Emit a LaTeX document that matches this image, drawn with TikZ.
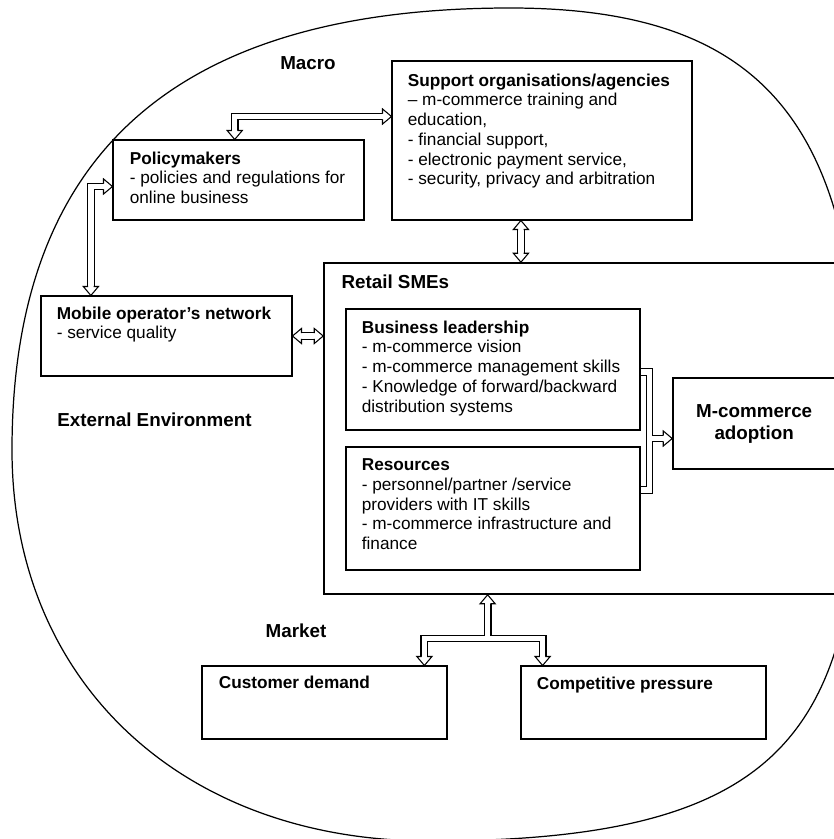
\documentclass[tikz,border=0pt]{standalone}
\usepackage{fontspec}
\setmainfont{Liberation Sans}
\usetikzlibrary{calc,fit,backgrounds}

\begin{document}
\begin{tikzpicture}[x=0.02cm,y=-0.02cm,
        box/.style={draw,line width=0.6pt,inner sep=0pt},
        main box/.style={box,line width=0.9pt},
        body/.style={anchor=north west,inner sep=0pt,align=left,font=\fontsize{9.8}{11.2}\selectfont},
        zone/.style={inner sep=0pt,font=\fontsize{10.7}{12.5}\selectfont\bfseries},
        pipe/.style={line join=miter},
        both heads/.style={shorten <=5.1pt,shorten >=5.1pt},
        end head/.style={shorten >=5.1pt},
        start head/.style={shorten <=5.1pt},
        arrow head/.pic={\filldraw[fill=white,line width=0.6pt,line join=miter]
            (-5.1pt,1.6pt) -- (-5.1pt,4.3pt) -- (0pt,0pt) -- (-5.1pt,-4.3pt) -- (-5.1pt,-1.6pt);}]
    \useasboundingbox (0,0) rectangle (834,839);

    \node[box,fit={(113,140) (364,220)}] (pol) {};
    \node[box,fit={(392,61) (692,220)}] (sup) {};
    \node[box,fit={(41,296) (292,376)}] (mob) {};
    \node[main box,fit={(324,263) (860,594)}] (ret) {};
    \node[box,fit={(346,309) (640,430)}] (bus) {};
    \node[box,fit={(346,447) (640,570)}] (res) {};
    \node[main box,fit={(673,378) (850,469)}] (mca) {};
    \node[box,fit={(202,666) (447,739)}] (cust) {};
    \node[box,fit={(521,666) (766,739)}] (comp) {};

    \node[body] (pol text) at ($(pol.north west)+(17,12)$) {\textbf{Policymakers}\\- policies and regulations for\\online business};
    \node[body] (sup text) at ($(sup.north west)+(16,13)$) {\textbf{Support organisations/agencies}\\– m-commerce training and\\education,\\- financial support,\\- electronic payment service,\\- security, privacy and arbitration};
    \node[body] (mob text) at ($(mob.north west)+(16,11)$) {\textbf{Mobile operator's network}\\- service quality};
    \node[body] (bus text) at ($(bus.north west)+(16,12)$) {\textbf{Business leadership}\\- m-commerce vision\\- m-commerce management skills\\- Knowledge of forward/backward\\distribution systems};
    \node[body] (res text) at ($(res.north west)+(16,12)$) {\textbf{Resources}\\- personnel/partner /service\\providers with IT skills\\- m-commerce infrastructure and\\finance};
    \node[body] (cust text) at ($(cust.north west)+(17,10)$) {\textbf{Customer demand}};
    \node[body] (comp text) at ($(comp.north west)+(16,11)$) {\textbf{Competitive pressure}};
    \node[zone,align=center] (mca text) at ($(mca.west)+(82,0)$) {M-commerce\\adoption};

    \node[zone] (macro) at (308,63) {Macro};
    \node[zone,anchor=west] (external) at (57,420) {External Environment};
    \node[zone] (market) at (296,631) {Market};
    \node[zone,anchor=north west] (retail) at ($(ret.north west)+(18,12)$) {Retail SMEs};

    \coordinate (ps) at ($(pol.north west)!0.485!(pol.north east)$);
    \coordinate (sp) at ($(sup.north west)!0.35!(sup.south west)$);
    \coordinate (pm) at ($(pol.north west)!0.58!(pol.south west)$);
    \coordinate (mp) at ($(mob.north west)!0.2!(mob.north east)$);
    \coordinate (sr) at ($(sup.south west)!0.43!(sup.south east)$);
    \coordinate (rs) at (sr |- ret.north);
    \coordinate (rm) at (mob.east -| ret.west);
    \coordinate (bl) at ($(bus.north east)!0.52!(bus.south east)$);
    \coordinate (rl) at ($(res.north east)!0.35!(res.south east)$);
    \coordinate (jx) at ($(bus.south east)!0.5!(res.north east)+(9,0)$);
    \coordinate (ma) at (jx -| mca.west);
    \coordinate (fk) at ($(cust.north east)!0.55!(comp.north west)$);
    \coordinate (fork) at ($(fk)+(0,-27)$);
    \coordinate (rb) at (fk |- ret.south);
    \coordinate (cd) at ($(cust.north west)!0.906!(cust.north east)$);
    \coordinate (cp) at ($(comp.north west)!0.09!(comp.north east)$);

    \begin{scope}[on background layer]
        \draw[line width=0.7pt] (12,450) .. controls (12,150) and (180,8) .. (510,8)
            .. controls (770,8) and (860,130) .. (860,430)
            .. controls (860,730) and (790,841) .. (430,841)
            .. controls (180,841) and (12,680) .. cycle;
        \foreach \w/\c in {4.5pt/black,3.1pt/white}{
            \draw[pipe,line width=\w,draw=\c,both heads] (ps) |- (sp);
            \draw[pipe,line width=\w,draw=\c,both heads] (pm) -| (mp);
            \draw[pipe,line width=\w,draw=\c,both heads] (sr) -- (rs);
            \draw[pipe,line width=\w,draw=\c,both heads] (mob.east) -- (rm);
            \draw[pipe,line width=\w,draw=\c] (bl) -| (jx) |- (rl);
            \draw[pipe,line width=\w,draw=\c,end head] (jx) -- (ma);
            \draw[pipe,line width=\w,draw=\c,start head] (rb) -- (fork);
            \draw[pipe,line width=\w,draw=\c,both heads] (cd) |- (fork) -| (cp);
        }
        \foreach \p/\r in {ps/-90,sp/0,pm/0,mp/-90,sr/90,rs/-90,mob.east/180,rm/0,ma/0,rb/90,cd/-90,cp/-90}
            \pic[rotate=\r] at (\p) {arrow head};
    \end{scope}
\end{tikzpicture}
\end{document}
